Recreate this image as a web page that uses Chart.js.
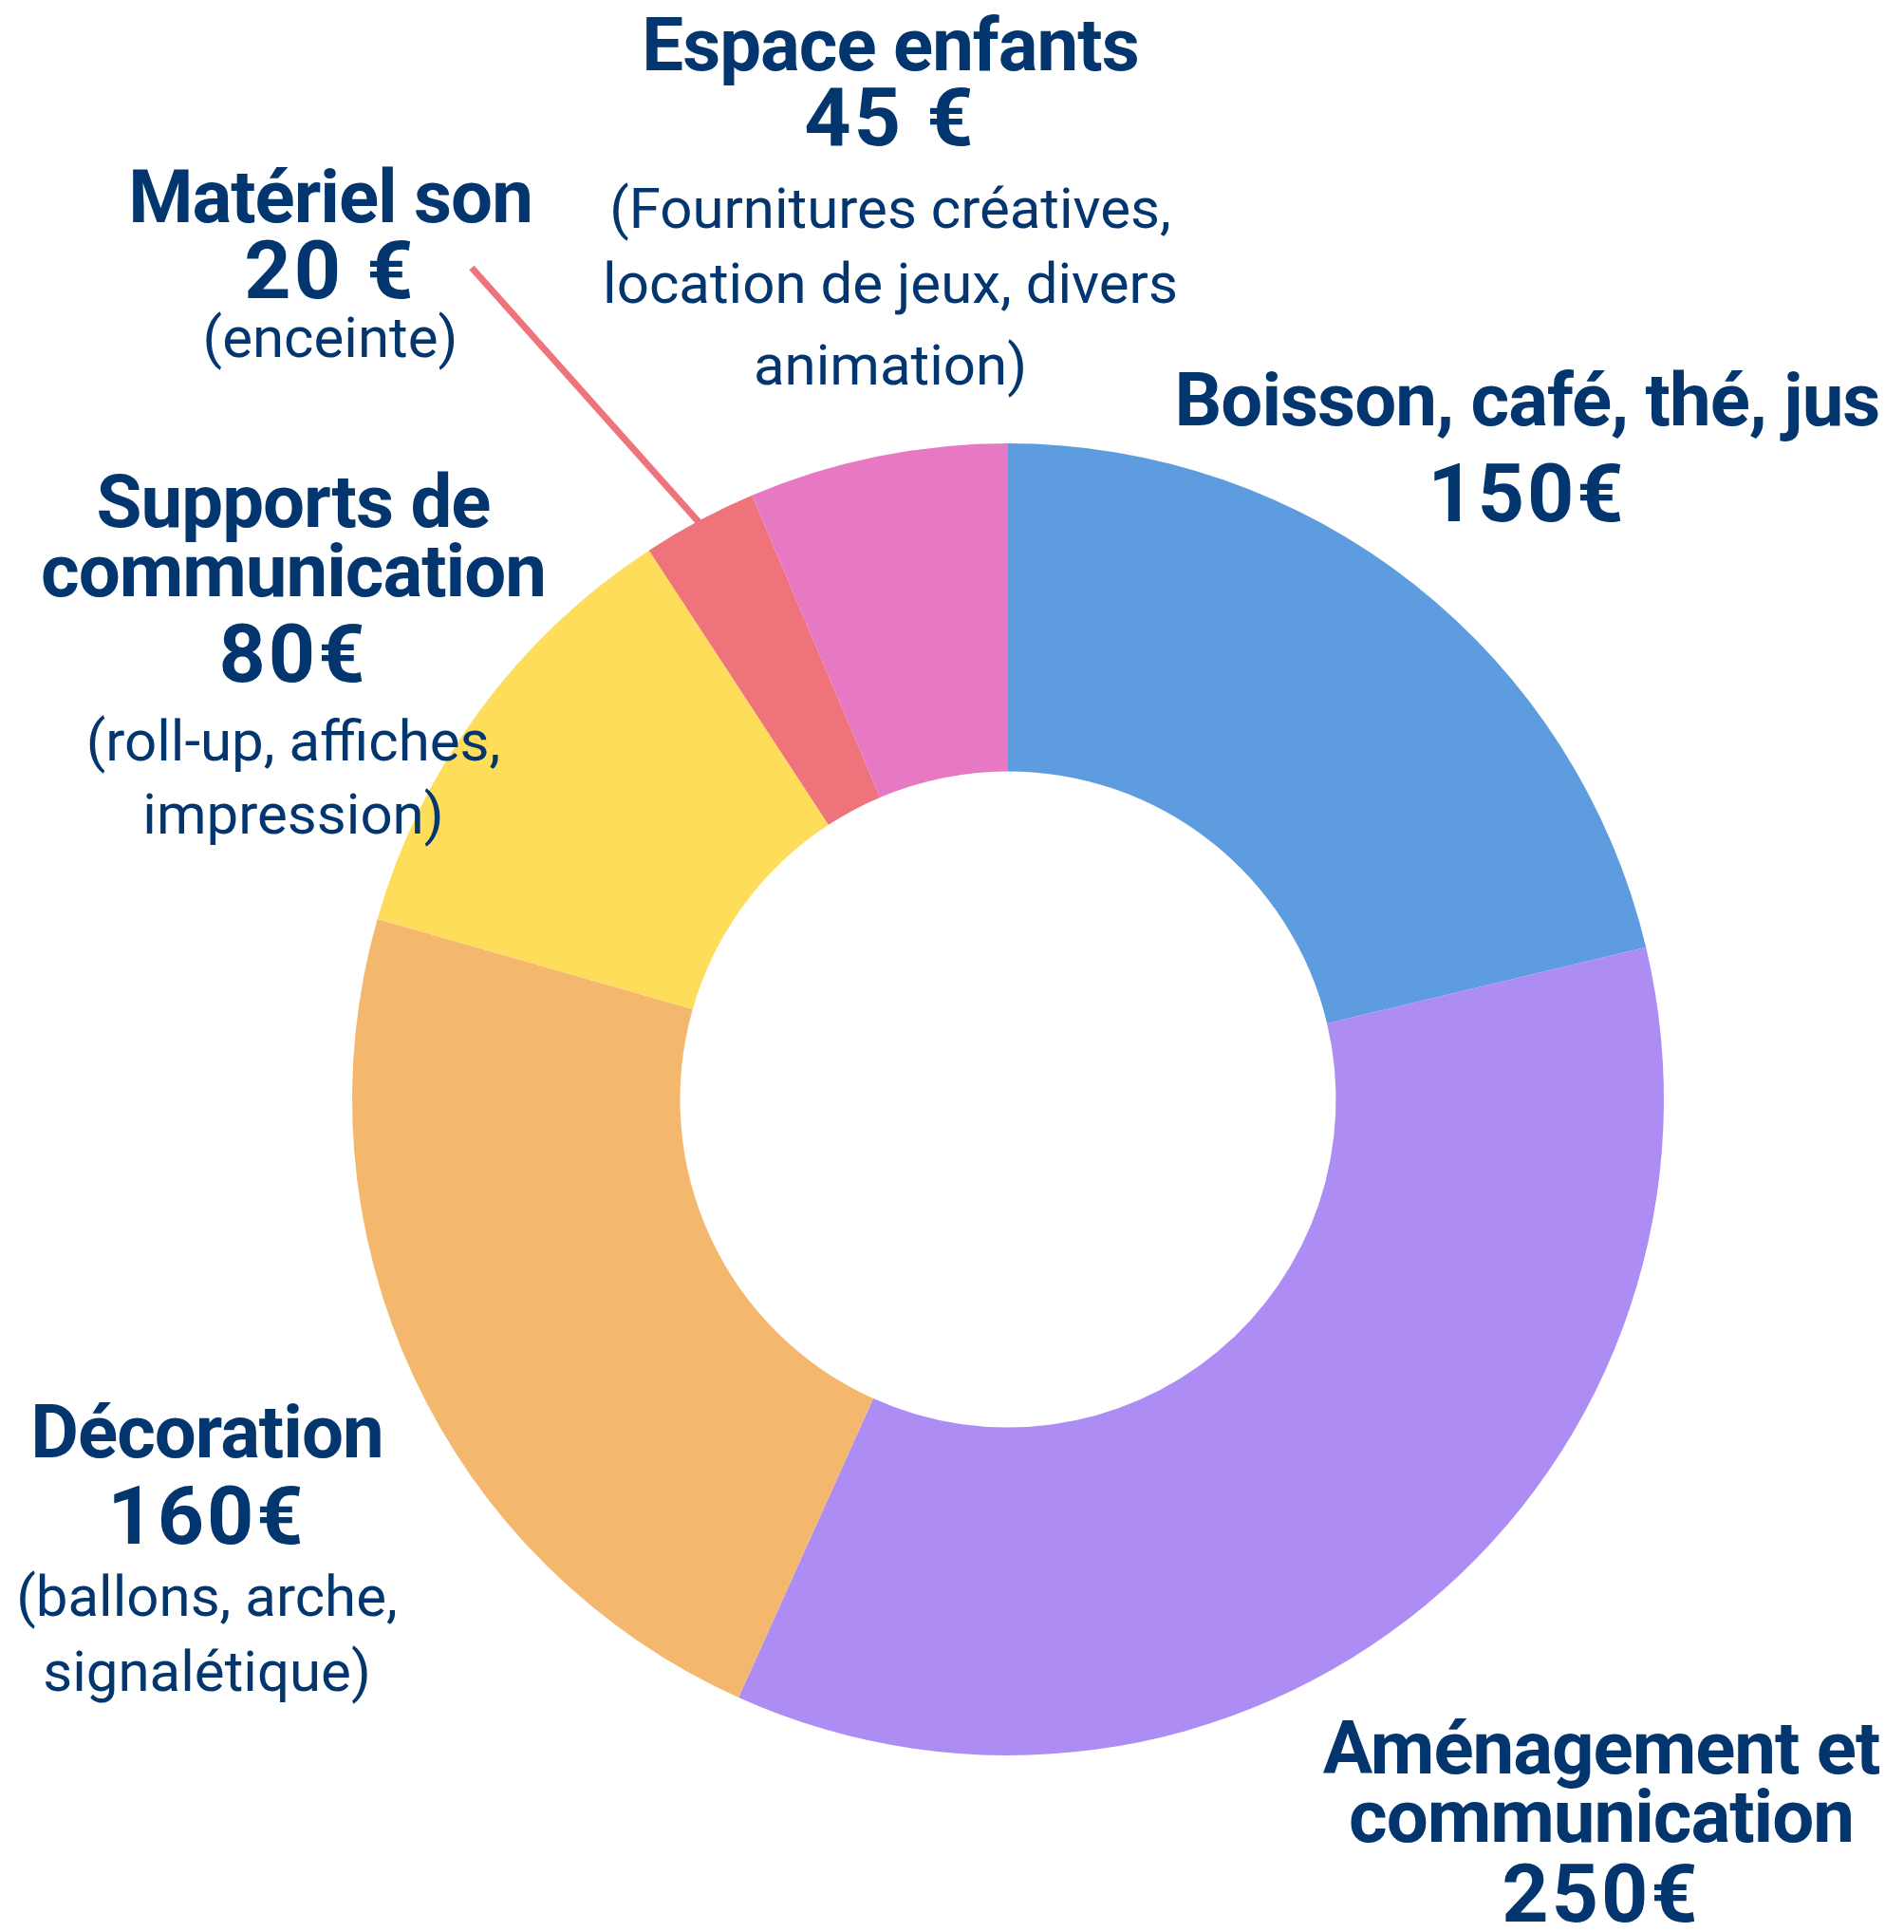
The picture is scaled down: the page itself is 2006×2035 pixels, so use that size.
<!DOCTYPE html>
<html lang="fr">

<head>
    <meta charset="UTF-8">
    <title>Budget</title>
    <script src="https://cdn.jsdelivr.net/npm/chart.js"></script>
    <style>
        body {
            margin: 0;
            background: #fff;
        }

        canvas {
            display: block;
        }
    </style>
</head>

<body>
    <canvas id="budgetChart" width="2006" height="2035"></canvas>

    <script>
        // données du graphique
        const categories = ['Boisson, café, thé, jus', 'Aménagement et communication', 'Décoration', 'Supports de communication', 'Matériel son', 'Espace enfants'];
        const amounts = [150, 250, 160, 80, 20, 45];
        const valueLabels = ['150€', '250€', '160€', '80€', '20 €', '45 €'];
        const titleLines = [
            ['Boisson, café, thé, jus'],
            ['Aménagement et', 'communication'],
            ['Décoration'],
            ['Supports de', 'communication'],
            ['Matériel son'],
            ['Espace enfants']
        ];
        const detailLines = [
            [],
            [],
            ['(ballons, arche,', 'signalétique)'],
            ['(roll-up, affiches,', 'impression)'],
            ['(enceinte)'],
            ['(Fournitures créatives,', 'location de jeux, divers', 'animation)']
        ];
        const colors = ['#5d9ddf', '#ad8cf4', '#f3b86d', '#fedd5a', '#ef737b', '#e779c4'];

        const navy = '#03356e';

        // position des blocs de texte : x centre + ligne de base de chaque ligne
        const labelLayout = [
            { x: 1609, base: [448, 549] },
            { x: 1687, base: [1868, 1940, 2024] },
            { x: 218, base: [1535, 1626, 1702, 1781] },
            { x: 309, base: [555, 628, 718, 801, 878] },
            { x: 348, base: [234, 314, 376] },
            { x: 938, base: [74, 153, 240, 319, 405] }
        ];

        const labelsPlugin = {
            id: 'blockLabels',
            afterDraw(chart) {
                const ctx = chart.ctx;
                const arcs = chart.getDatasetMeta(0).data;
                ctx.save();
                ctx.fillStyle = navy;
                ctx.textAlign = 'center';
                ctx.textBaseline = 'alphabetic';

                // trait vers "Matériel son"
                const a = arcs[4].getProps(['x', 'y', 'startAngle', 'endAngle', 'outerRadius'], true);
                const mid = (a.startAngle + a.endAngle) / 2;
                ctx.strokeStyle = colors[4];
                ctx.lineWidth = 7;
                ctx.beginPath();
                ctx.moveTo(a.x + Math.cos(mid) * (a.outerRadius - 6), a.y + Math.sin(mid) * (a.outerRadius - 6));
                ctx.lineTo(497, 282);
                ctx.stroke();

                categories.forEach((c, i) => {
                    const pos = labelLayout[i];
                    let k = 0;
                    ctx.font = 'bold 78px Roboto';
                    ctx.letterSpacing = '-1px';
                    titleLines[i].forEach(t => ctx.fillText(t, pos.x, pos.base[k++]));
                    ctx.font = 'bold 86px Roboto';
                    ctx.letterSpacing = '3px';
                    ctx.fillText(valueLabels[i], pos.x, pos.base[k++]);
                    ctx.font = '60px Roboto';
                    ctx.letterSpacing = '0px';
                    detailLines[i].forEach(t => ctx.fillText(t, pos.x, pos.base[k++]));
                });
                ctx.restore();
            }
        };

        new Chart(document.getElementById('budgetChart').getContext('2d'), {
            type: 'doughnut',
            data: {
                labels: categories,
                datasets: [{
                    data: amounts,
                    backgroundColor: colors,
                    borderWidth: 0,
                    hoverOffset: 0
                }]
            },
            options: {
                responsive: false,
                animation: false,
                cutout: '50%',
                layout: {
                    padding: { left: 371, top: 467, right: 253, bottom: 186 }
                },
                plugins: {
                    legend: { display: false },
                    tooltip: { enabled: false }
                }
            },
            plugins: [labelsPlugin]
        });
    </script>
</body>

</html>
